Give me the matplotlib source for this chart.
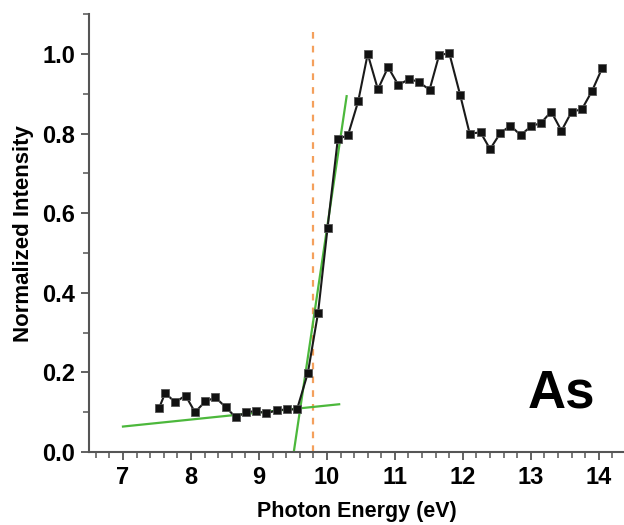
import matplotlib
matplotlib.use('Agg')
import matplotlib.pyplot as plt
from matplotlib.ticker import MultipleLocator

plt.rcParams['font.family'] = ['Liberation Sans', 'DejaVu Sans']
plt.rcParams['font.weight'] = 'bold'

# measured spectrum (photon energy in eV, normalized intensity)
energy = [7.53, 7.62, 7.77, 7.92, 8.06, 8.21, 8.36, 8.51, 8.66, 8.81, 8.96,
          9.11, 9.26, 9.41, 9.56, 9.72, 9.87, 10.01, 10.16, 10.31, 10.46,
          10.60, 10.75, 10.90, 11.05, 11.21, 11.35, 11.51, 11.65, 11.80,
          11.96, 12.10, 12.26, 12.40, 12.55, 12.70, 12.85, 13.00, 13.15,
          13.30, 13.45, 13.60, 13.75, 13.90, 14.05]
intensity = [0.110, 0.148, 0.125, 0.142, 0.100, 0.127, 0.137, 0.113, 0.087,
             0.100, 0.103, 0.097, 0.105, 0.107, 0.107, 0.199, 0.350, 0.564,
             0.786, 0.796, 0.881, 1.000, 0.911, 0.967, 0.922, 0.937, 0.930,
             0.910, 0.997, 1.002, 0.897, 0.800, 0.803, 0.761, 0.801, 0.820,
             0.796, 0.818, 0.827, 0.855, 0.807, 0.855, 0.861, 0.907, 0.965]

# linear fits (endpoints) for the baseline and the rising edge
base_x = [7.0, 10.18]
base_y = [0.064, 0.120]
edge_x = [9.51, 10.29]
edge_y = [-0.003, 0.894]

# onset marker
onset = 9.79
onset_top = 1.06

fig = plt.figure(figsize=(6.24, 5.25), dpi=100)
ax = fig.add_axes([0.1426, 0.139, 0.8574, 0.834])

ax.plot(edge_x, edge_y, color='#4cb83c', lw=1.6, zorder=2)
ax.plot(base_x, base_y, color='#4cb83c', lw=1.6, zorder=2)
ax.plot([onset, onset], [0, onset_top], color='#f4a05c', lw=1.6,
        linestyle=(0, (3, 3.2)), zorder=1)
ax.plot(energy, intensity, color='#1a1a1a', lw=1.5, marker='s', ms=6.2,
        mfc='#111111', mec='#555555', mew=0.6, zorder=3)

ax.text(13.45, 0.146, 'As', fontsize=38, fontweight='bold',
        ha='center', va='center')

ax.set_xlim(6.5, 14.37)
ax.set_ylim(0, 1.1)
ax.xaxis.set_minor_locator(MultipleLocator(0.2))
ax.yaxis.set_minor_locator(MultipleLocator(0.1))
ax.set_xticks(range(7, 15))
ax.set_yticks([0.0, 0.2, 0.4, 0.6, 0.8, 1.0])
ax.set_yticklabels(['0.0', '0.2', '0.4', '0.6', '0.8', '1.0'])

for side in ('top', 'right'):
    ax.spines[side].set_visible(False)
for side in ('left', 'bottom'):
    ax.spines[side].set_color('#555555')
    ax.spines[side].set_linewidth(1.5)

ax.tick_params(which='major', length=6, width=1.3, color='#555555',
               labelsize=17, pad=4)
ax.tick_params(which='minor', length=4, width=1.1, color='#555555')

ax.set_xlabel('Photon Energy (eV)', fontsize=15.5, fontweight='bold', labelpad=9)
ax.set_ylabel('Normalized Intensity', fontsize=16, fontweight='bold', labelpad=6)

fig.savefig('out.png', dpi=100)
